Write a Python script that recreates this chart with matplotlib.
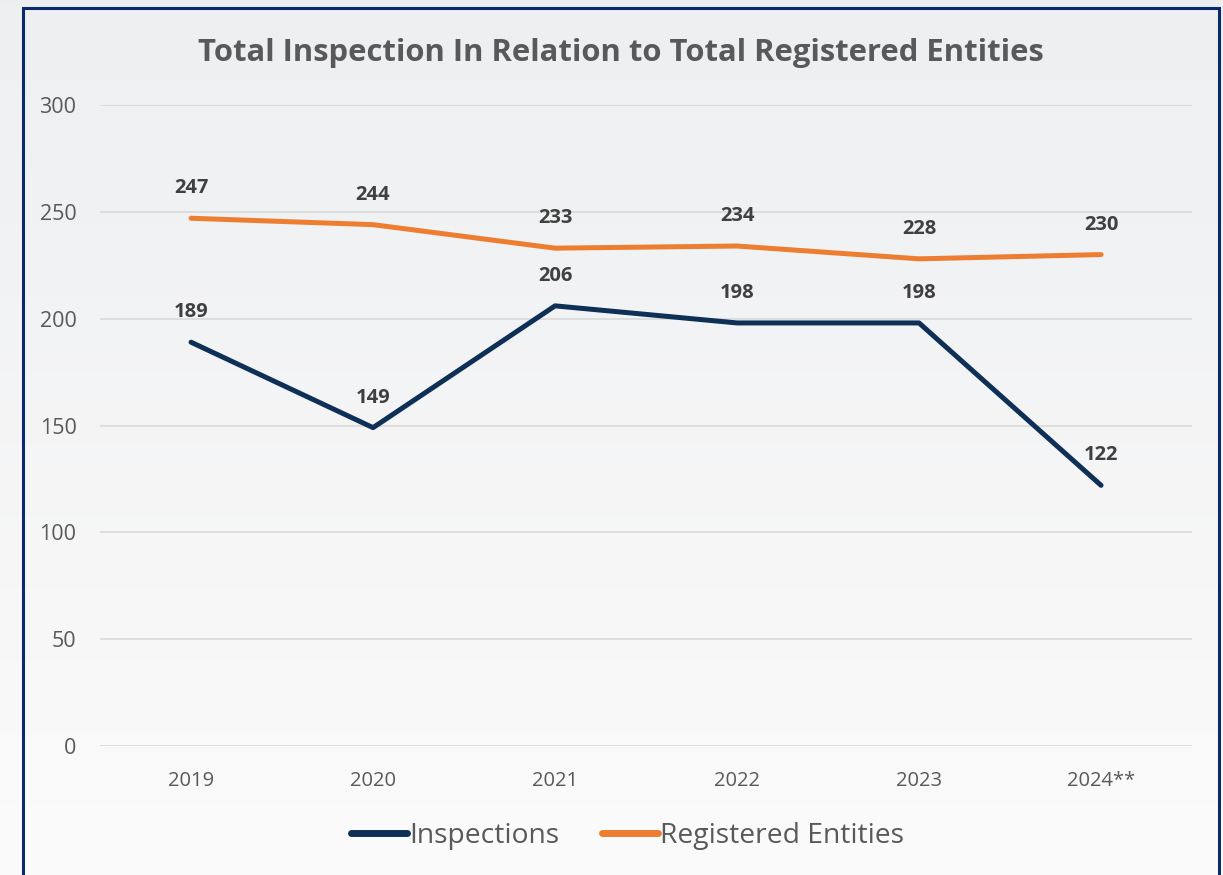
import matplotlib
matplotlib.use("Agg")
import numpy as np
import matplotlib.pyplot as plt
from matplotlib.patches import Rectangle

# data
years = ["2019", "2020", "2021", "2022", "2023", "2024**"]
inspections = [189, 149, 206, 198, 198, 122]
registered = [247, 244, 233, 234, 228, 230]

navy = "#0E2F56"
orange = "#ED7D31"
grey_txt = "#595959"
label_txt = "#404040"

plt.rcParams["font.family"] = ["Open Sans", "DejaVu Sans"]

fig = plt.figure(figsize=(12.23, 8.75), dpi=100, facecolor="#F8F8F9")

# soft background: pale grey-blue at the top fading to near white
bg = fig.add_axes([0, 0, 1, 1], zorder=-10)
top = np.array([0.93, 0.937, 0.945])
bottom = np.array([0.988, 0.984, 0.984])
t = np.linspace(0, 1, 256)[:, None]
grad = top[None, :] * (1 - t) + bottom[None, :] * t
bg.imshow(grad[:, None, :], aspect="auto", extent=[0, 1, 0, 1], interpolation="bilinear")
bg.set_axis_off()

ax = fig.add_axes([0.0818, 0.1474, 0.8929, 0.7326])
ax.set_facecolor("none")

x = list(range(len(years)))
ax.plot(x, inspections, color=navy, lw=3.6, solid_capstyle="round", label="Inspections", zorder=3)
ax.plot(x, registered, color=orange, lw=3.6, solid_capstyle="round", label="Registered Entities", zorder=3)

for series in (inspections, registered):
    for xi, v in zip(x, series):
        ax.annotate(str(v), (xi, v), xytext=(0, 30), textcoords="offset pixels",
                    ha="center", va="center", fontsize=14.5, fontweight="bold", color=label_txt)

ax.set_xlim(-0.5, len(years) - 0.5)
ax.set_ylim(0, 300)
ax.set_yticks(range(0, 301, 50))
ax.set_xticks(x)
ax.set_xticklabels(years)
ax.grid(axis="y", color="#D9D9D9", lw=1.2)
ax.set_axisbelow(True)
for s in ax.spines.values():
    s.set_visible(False)
ax.tick_params(length=0, labelcolor=grey_txt)
ax.tick_params(axis="x", pad=18, labelsize=14.5)
ax.tick_params(axis="y", pad=17, labelsize=15.5)

fig.text(0.508, 0.94, "Total Inspection In Relation to Total Registered Entities",
         ha="center", va="center", fontsize=22.3, fontweight="bold", color=grey_txt)

leg = fig.legend(loc="center", bbox_to_anchor=(0.513, 0.045), ncol=2, frameon=False,
                 fontsize=20.3, handlelength=2.0, handletextpad=0.08, columnspacing=1.5)
for line in leg.get_lines():
    line.set_linewidth(5)
    line.set_solid_capstyle("round")
for txt in leg.get_texts():
    txt.set_color(grey_txt)

# dark frame round the chart
fig.patches.append(Rectangle((23 / 1223, -0.05), (1219 - 23) / 1223, 1.05 - 8 / 875,
                             transform=fig.transFigure, fill=False, ec="#0A2A6B", lw=2.2))

fig.savefig("out.png", dpi=100, facecolor=fig.get_facecolor())
